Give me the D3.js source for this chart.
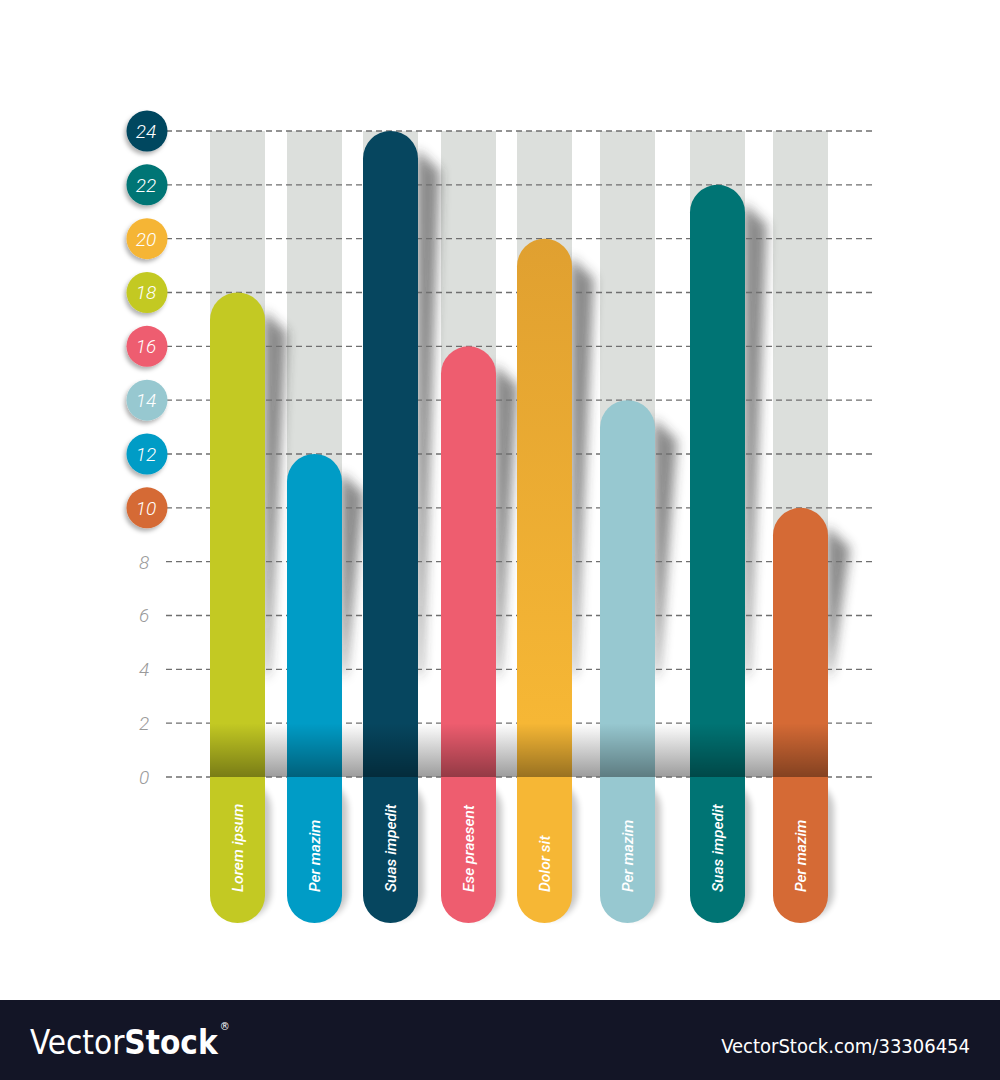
<!DOCTYPE html>
<html>
<head>
<meta charset="utf-8">
<script src="https://cdn.jsdelivr.net/npm/d3@7"></script>
<style>
  html, body { margin: 0; padding: 0; background: #ffffff; }
  svg { display: block; }
</style>
</head>
<body>
<svg id="chart" width="1000" height="1080"></svg>
<script>
// ---------- data ----------
const categories = ["Lorem ipsum", "Per mazim", "Suas impedit", "Ese praesent", "Dolor sit", "Per mazim", "Suas impedit", "Per mazim"];
const values = [18, 12, 24, 16, 20, 14, 22, 10];
const barColors = ["#c3c923", "#009cc6", "#06465f", "#ee5d6f", "#f5b535", "#97c8d0", "#007474", "#d56a35"];
const tickValues = [0, 2, 4, 6, 8, 10, 12, 14, 16, 18, 20, 22, 24];
const tickCircleColors = { 24: "#06465f", 22: "#007474", 20: "#f5b535", 18: "#c3c923", 16: "#ee5d6f", 14: "#97c8d0", 12: "#009cc6", 10: "#d56a35" };

// ---------- layout ----------
const barLefts = [210, 287, 363, 441, 517, 600, 690, 773];
const barW = 55;
const labelBottom = 923;
const svg = d3.select("#chart");
const defs = svg.append("defs");

const y = d3.scaleLinear().domain([0, 24]).range([777, 131]);
const x = d3.scaleLinear().domain(d3.range(categories.length)).range(barLefts);
const idx = d3.range(categories.length);

// filters
const blur = defs.append("filter").attr("id", "blur").attr("x", "-50%").attr("y", "-20%").attr("width", "200%").attr("height", "140%");
blur.append("feGaussianBlur").attr("stdDeviation", 6);
const blurS = defs.append("filter").attr("id", "blurS").attr("x", "-50%").attr("y", "-20%").attr("width", "200%").attr("height", "140%");
blurS.append("feGaussianBlur").attr("stdDeviation", 3);
const ds = defs.append("filter").attr("id", "ds").attr("x", "-40%").attr("y", "-40%").attr("width", "180%").attr("height", "180%");
ds.append("feDropShadow").attr("dx", -2).attr("dy", 3).attr("stdDeviation", 2).attr("flood-color", "#000").attr("flood-opacity", 0.3);

// gradients
const floorG = defs.append("linearGradient").attr("id", "floorG").attr("x1", 0).attr("y1", 0).attr("x2", 0).attr("y2", 1);
floorG.append("stop").attr("offset", "0%").attr("stop-color", "#ffffff");
floorG.append("stop").attr("offset", "100%").attr("stop-color", "#9c9c9c");
const darkG = defs.append("linearGradient").attr("id", "darkG").attr("x1", 0).attr("y1", 0).attr("x2", 0).attr("y2", 1);
darkG.append("stop").attr("offset", "0%").attr("stop-color", "#000").attr("stop-opacity", 0);
darkG.append("stop").attr("offset", "100%").attr("stop-color", "#000").attr("stop-opacity", 0.38);
const orangeG = defs.append("linearGradient").attr("id", "orangeG").attr("gradientUnits", "userSpaceOnUse")
  .attr("x1", 0).attr("y1", y(20)).attr("x2", 0).attr("y2", y(2));
orangeG.append("stop").attr("offset", "0%").attr("stop-color", "#e0a030");
orangeG.append("stop").attr("offset", "100%").attr("stop-color", "#f6b735");

function fillFor(i) { return i === 4 ? "url(#orangeG)" : barColors[i]; }

function barPath(i) {
  const l = x(i), r = l + barW, rad = barW / 2, t = y(values[i]), b = labelBottom;
  return `M${l},${t + rad} A${rad},${rad} 0 0 1 ${r},${t + rad} L${r},${b - rad} A${rad},${rad} 0 0 1 ${l},${b - rad} Z`;
}

// grey background bars
svg.append("g").selectAll("rect").data(idx).join("rect")
  .attr("x", i => x(i)).attr("y", y(24)).attr("width", barW).attr("height", y(0) - y(24))
  .attr("fill", "#dcdfdc");

// floor shadow band
svg.append("rect").attr("x", x(0)).attr("y", y(2)).attr("width", x(7) + barW - x(0)).attr("height", y(0) - y(2))
  .attr("fill", "url(#floorG)");

// upper bar shadows (tapered, blurred)
svg.append("g").selectAll("path").data(idx).join("path")
  .attr("d", i => {
    const r = x(i) + barW, t = y(values[i]);
    return `M${r - 2},${t + 18} L${r + 22},${t + 40} L${r + 4},${y(4)} L${r},${y(3.6)} Z`;
  })
  .attr("fill", "#2a2a2a").attr("opacity", 0.55).attr("filter", "url(#blur)");

// lower bar shadows
svg.append("g").selectAll("rect").data(idx).join("rect")
  .attr("x", i => x(i) + 6).attr("y", y(0) + 4).attr("width", barW).attr("height", labelBottom - y(0) - 8)
  .attr("rx", barW / 2)
  .attr("fill", "#000").attr("opacity", 0.22).attr("filter", "url(#blurS)");

// grid lines
const gridStart = 166, gridEnd = 875;
svg.append("g").selectAll("line").data(tickValues).join("line")
  .attr("x1", gridStart).attr("x2", gridEnd)
  .attr("y1", d => y(d)).attr("y2", d => y(d))
  .attr("stroke", "#6f6f6f").attr("stroke-width", 1.3).attr("stroke-dasharray", "6,4");

// bars
svg.append("g").selectAll("path").data(idx).join("path")
  .attr("d", barPath).attr("fill", fillFor);

// darkening of bars in floor band
svg.append("g").selectAll("rect").data(idx).join("rect")
  .attr("x", i => x(i)).attr("y", y(2)).attr("width", barW).attr("height", y(0) - y(2))
  .attr("fill", "url(#darkG)");

// category labels
svg.append("g").selectAll("text").data(idx).join("text")
  .attr("transform", i => `translate(${x(i) + barW / 2 + 5.5},892) rotate(-90)`)
  .attr("text-anchor", "start")
  .attr("font-family", "Roboto, 'Open Sans', sans-serif")
  .attr("font-style", "italic").attr("font-weight", 500).attr("font-size", 15.5)
  .attr("fill", "#ffffff")
  .text(i => categories[i]);

// y axis ticks
const axisX = 147;
const tg = svg.append("g").selectAll("g").data(tickValues).join("g")
  .attr("transform", d => `translate(${axisX},${y(d)})`);
tg.filter(d => tickCircleColors[d]).append("circle")
  .attr("r", 20.5).attr("fill", d => tickCircleColors[d]).attr("filter", "url(#ds)");
tg.append("text")
  .attr("text-anchor", "middle").attr("dy", "0.36em")
  .attr("font-family", "Roboto, 'Open Sans', sans-serif")
  .attr("font-weight", 300).attr("font-style", "italic").attr("font-size", 19)
  .attr("fill", d => tickCircleColors[d] ? "#ffffff" : "#9a9a9a")
  .attr("dx", d => tickCircleColors[d] ? -1 : -3)
  .text(d => d);

// watermark band
svg.append("rect").attr("x", 0).attr("y", 1000).attr("width", 1000).attr("height", 80).attr("fill", "#131526");
const wm = svg.append("text").attr("x", 30).attr("y", 1054)
  .attr("font-family", "'DejaVu Sans Condensed', 'DejaVu Sans', sans-serif").attr("font-size", 33)
  .attr("fill", "#ffffff");
wm.append("tspan").attr("font-weight", 300).text("Vector");
wm.append("tspan").attr("font-weight", "bold").text("Stock");
const wmEnd = 30 + wm.node().getComputedTextLength();
svg.append("text").attr("x", wmEnd + 2).attr("y", 1030).attr("font-family", "'DejaVu Sans', sans-serif")
  .attr("font-size", 10).attr("fill", "#ffffff").text("®");
svg.append("text").attr("x", 970).attr("y", 1053).attr("text-anchor", "end")
  .attr("font-family", "'DejaVu Sans Condensed', 'DejaVu Sans', sans-serif").attr("font-size", 20)
  .attr("fill", "#ffffff")
  .text("VectorStock.com/33306454");
</script>
</body>
</html>
